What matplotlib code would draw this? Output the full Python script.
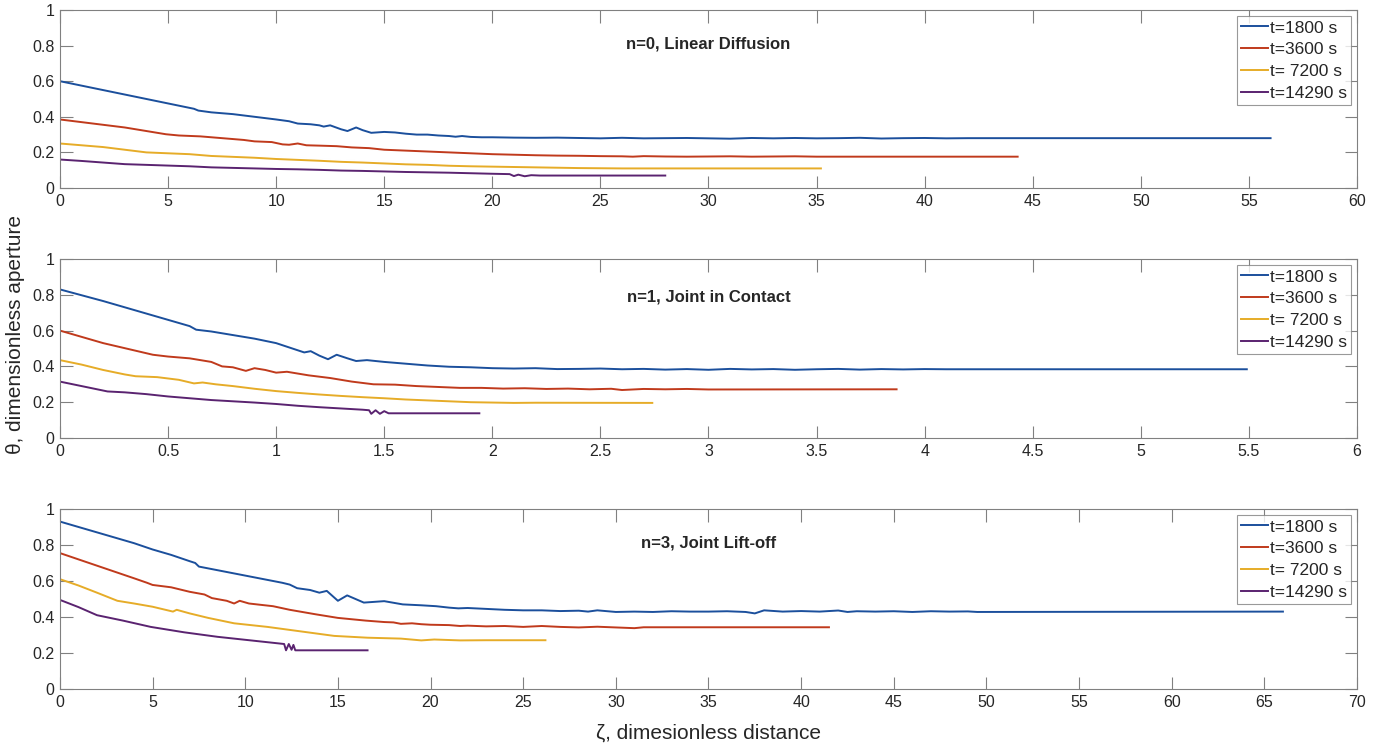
import matplotlib
matplotlib.use("Agg")
import matplotlib.pyplot as plt
from matplotlib.ticker import FormatStrFormatter

plt.rcParams['font.family'] = ['Liberation Sans', 'DejaVu Sans']

labels = ["t=1800 s", "t=3600 s", "t= 7200 s", "t=14290 s"]
colors = ['#1B4F9C', '#C03A1C', '#E6AC28', '#5A2370']
titles = ["n=0, Linear Diffusion", "n=1, Joint in Contact", "n=3, Joint Lift-off"]
xmax = [60, 6, 70]
xstep = [5, 0.5, 5]

# panel 1: n=0
p1_blue_x = [0, 1, 2, 3, 4, 5, 6, 6.2, 6.4, 7, 8, 9, 10, 10.6, 11, 11.6, 12, 12.2, 12.5, 13.0, 13.3, 13.7, 14.0, 14.4, 15, 15.5, 16, 16.5, 17, 17.5, 18, 18.3, 18.6, 19, 19.5, 20, 21, 22, 23, 24, 25, 26, 27, 28, 29, 30, 31, 32, 33, 34, 35, 36, 37, 38, 39, 40, 41, 42, 56]
p1_blue_y = [0.60, 0.575, 0.55, 0.525, 0.50, 0.475, 0.45, 0.445, 0.435, 0.425, 0.415, 0.40, 0.385, 0.375, 0.362, 0.358, 0.352, 0.345, 0.352, 0.33, 0.32, 0.34, 0.325, 0.31, 0.315, 0.312, 0.305, 0.30, 0.30, 0.295, 0.292, 0.288, 0.292, 0.287, 0.285, 0.285, 0.283, 0.282, 0.283, 0.281, 0.279, 0.282, 0.279, 0.280, 0.281, 0.279, 0.277, 0.281, 0.279, 0.281, 0.279, 0.280, 0.282, 0.278, 0.280, 0.281, 0.279, 0.280, 0.280]
p1_red_x = [0, 1, 2, 3, 4, 4.9, 5.5, 6.5, 7.5, 8.5, 9, 9.8, 10.3, 10.6, 11, 11.4, 12, 12.8, 13.5, 14.3, 15, 16, 17, 18, 19, 20, 21, 22, 23, 24, 25, 26, 26.5, 27, 28, 29, 30, 31, 32, 33, 34, 35, 44.3]
p1_red_y = [0.385, 0.37, 0.355, 0.34, 0.32, 0.302, 0.295, 0.29, 0.28, 0.27, 0.262, 0.258, 0.245, 0.243, 0.25, 0.24, 0.238, 0.235, 0.228, 0.224, 0.215, 0.21, 0.205, 0.20, 0.195, 0.19, 0.187, 0.184, 0.182, 0.181, 0.179, 0.178, 0.176, 0.179, 0.177, 0.176, 0.177, 0.178, 0.176, 0.177, 0.178, 0.176, 0.176]
p1_yel_x = [0, 1, 2, 3, 4, 5, 6, 7, 8, 9, 10, 11, 12, 13, 14, 15, 16, 17, 18, 19, 20, 21, 22, 23, 24, 25, 26, 35.2]
p1_yel_y = [0.25, 0.24, 0.23, 0.215, 0.20, 0.195, 0.19, 0.18, 0.175, 0.17, 0.163, 0.158, 0.153, 0.147, 0.143, 0.138, 0.133, 0.13, 0.125, 0.122, 0.12, 0.118, 0.116, 0.114, 0.112, 0.111, 0.11, 0.11]
p1_pur_x = [0, 1, 2, 3, 4, 5, 6, 7, 8, 9, 10, 11, 12, 13, 14, 15, 16, 17, 18, 19, 20, 20.8, 21.0, 21.2, 21.5, 21.8, 22.2, 28.0]
p1_pur_y = [0.16, 0.152, 0.143, 0.134, 0.13, 0.126, 0.122, 0.116, 0.113, 0.11, 0.107, 0.105, 0.102, 0.098, 0.096, 0.093, 0.09, 0.088, 0.086, 0.083, 0.08, 0.078, 0.067, 0.075, 0.066, 0.072, 0.07, 0.07]

# panel 2: n=1
p2_blue_x = [0, 0.2, 0.4, 0.6, 0.63, 0.7, 0.8, 0.9, 1.0, 1.05, 1.1, 1.13, 1.16, 1.2, 1.24, 1.28, 1.33, 1.37, 1.42, 1.5, 1.6, 1.7, 1.8, 1.9, 2.0, 2.1, 2.2, 2.3, 2.4, 2.5, 2.6, 2.7, 2.8, 2.9, 3.0, 3.1, 3.2, 3.3, 3.4, 3.5, 3.6, 3.7, 3.8, 3.9, 4.0, 4.1, 5.49]
p2_blue_y = [0.83, 0.765, 0.695, 0.625, 0.605, 0.595, 0.575, 0.555, 0.53, 0.51, 0.49, 0.478, 0.485, 0.46, 0.44, 0.465, 0.445, 0.43, 0.435, 0.425, 0.415, 0.405, 0.398, 0.395, 0.39, 0.388, 0.39, 0.385, 0.386, 0.388, 0.384, 0.386, 0.382, 0.385, 0.381, 0.386, 0.383, 0.385, 0.381, 0.384, 0.386, 0.382, 0.385, 0.383, 0.385, 0.384, 0.384]
p2_red_x = [0, 0.2, 0.43, 0.5, 0.6, 0.7, 0.75, 0.8, 0.86, 0.9, 0.95, 1.0, 1.05, 1.15, 1.25, 1.35, 1.45, 1.55, 1.65, 1.75, 1.85, 1.95, 2.05, 2.15, 2.25, 2.35, 2.45, 2.55, 2.6, 2.7, 2.8, 2.9, 3.0, 3.87]
p2_red_y = [0.60, 0.53, 0.465, 0.455, 0.445, 0.425, 0.40, 0.395, 0.375, 0.39, 0.38, 0.365, 0.37, 0.35, 0.335, 0.315, 0.30, 0.298, 0.29, 0.285, 0.28, 0.28, 0.276, 0.278, 0.274, 0.276, 0.272, 0.275, 0.268, 0.274, 0.272, 0.274, 0.271, 0.272]
p2_yel_x = [0, 0.1, 0.2, 0.3, 0.35, 0.45, 0.55, 0.62, 0.66, 0.72, 0.8, 0.9, 1.0, 1.1, 1.2, 1.3, 1.4, 1.5, 1.6, 1.7, 1.8, 1.9, 2.0, 2.1, 2.2, 2.74]
p2_yel_y = [0.435, 0.41, 0.38, 0.355, 0.345, 0.34, 0.325, 0.305, 0.31, 0.30, 0.29, 0.275, 0.262, 0.252, 0.243, 0.235, 0.228, 0.222, 0.215, 0.21, 0.205, 0.20, 0.198, 0.196, 0.197, 0.196]
p2_pur_x = [0, 0.1, 0.22, 0.3, 0.4, 0.5, 0.6, 0.7, 0.8, 0.9, 1.0, 1.1, 1.2, 1.3, 1.4, 1.43, 1.44, 1.46, 1.48, 1.5, 1.52, 1.94]
p2_pur_y = [0.315, 0.29, 0.26, 0.255, 0.245, 0.232, 0.222, 0.212, 0.205, 0.198, 0.19, 0.18, 0.172, 0.165, 0.158, 0.155, 0.135, 0.155, 0.135, 0.15, 0.138, 0.138]

# panel 3: n=3
p3_blue_x = [0, 1, 2, 3, 4, 5, 6, 7, 7.3, 7.5, 8, 8.5, 9, 10, 11, 12, 12.4, 12.8, 13.5, 14, 14.4, 15, 15.5, 16.4, 17.5, 18.5, 19.5, 20.3, 21, 21.5, 22, 23, 24, 25, 26, 27, 28, 28.5, 29, 30, 31, 32, 33, 34, 35, 36, 37, 37.5, 38, 39, 40, 41, 42, 42.5, 43, 44, 45, 46, 47, 48, 49, 49.5, 66]
p3_blue_y = [0.93, 0.90, 0.87, 0.84, 0.81, 0.775, 0.745, 0.71, 0.70, 0.68, 0.67, 0.66, 0.65, 0.63, 0.61, 0.59, 0.58, 0.56, 0.55, 0.535, 0.545, 0.49, 0.52, 0.48, 0.488, 0.47, 0.465, 0.46, 0.452, 0.448, 0.45, 0.445, 0.44, 0.437, 0.437, 0.433, 0.435, 0.43, 0.437, 0.428, 0.43, 0.428, 0.432, 0.43, 0.43, 0.432, 0.428, 0.42, 0.437, 0.43, 0.433, 0.43, 0.436, 0.428, 0.432, 0.43, 0.432, 0.428, 0.432, 0.43, 0.431, 0.428, 0.43]
p3_red_x = [0, 1, 2, 3, 4, 4.7, 5, 6, 7, 7.8, 8.2, 9, 9.4, 9.7, 10.2, 10.8, 11.5, 12.4, 13.8, 15, 16.5, 17.5, 18, 18.4, 19, 19.5, 20, 21, 21.6, 22, 23, 24, 25, 26, 27, 28, 29, 30, 31, 31.5, 41.5]
p3_red_y = [0.755, 0.72, 0.685, 0.65, 0.615, 0.59, 0.578, 0.565, 0.54, 0.525, 0.505, 0.49, 0.475, 0.49, 0.475, 0.468, 0.46, 0.44, 0.415, 0.395, 0.38, 0.372, 0.37, 0.362, 0.365, 0.36, 0.357, 0.355, 0.35, 0.352, 0.348, 0.35, 0.345, 0.35, 0.345, 0.342, 0.346, 0.342, 0.338, 0.343, 0.343]
p3_yel_x = [0, 1, 2, 3.1, 4, 5.0, 6.1, 6.3, 7.0, 8, 9.4, 11.2, 13.0, 14.8, 16.6, 18.4, 19.5, 20.2, 21.6, 23, 26.2]
p3_yel_y = [0.61, 0.575, 0.535, 0.49, 0.475, 0.457, 0.43, 0.44, 0.42, 0.395, 0.365, 0.345, 0.32, 0.295, 0.285, 0.28, 0.27, 0.275, 0.27, 0.271, 0.271]
p3_pur_x = [0, 1, 2.0, 3.4, 4.9, 6.7, 8.5, 10.3, 12.1, 12.2, 12.35, 12.5, 12.6, 12.7, 12.8, 16.6]
p3_pur_y = [0.495, 0.455, 0.41, 0.38, 0.345, 0.315, 0.29, 0.27, 0.25, 0.215, 0.25, 0.218, 0.245, 0.215, 0.215, 0.215]

panels = [
    [(p1_blue_x, p1_blue_y), (p1_red_x, p1_red_y), (p1_yel_x, p1_yel_y), (p1_pur_x, p1_pur_y)],
    [(p2_blue_x, p2_blue_y), (p2_red_x, p2_red_y), (p2_yel_x, p2_yel_y), (p2_pur_x, p2_pur_y)],
    [(p3_blue_x, p3_blue_y), (p3_red_x, p3_red_y), (p3_yel_x, p3_yel_y), (p3_pur_x, p3_pur_y)],
]

fig = plt.figure(figsize=(13.78, 7.44), dpi=100)
left, right = 0.0435, 0.9848
boxes = [(0.7473, 0.9866), (0.4113, 0.6519), (0.0739, 0.3159)]
title_y = [0.81, 0.79, 0.81]

axc = '#808080'
txtc = '#262626'
for i in range(3):
    b, t = boxes[i]
    ax = fig.add_axes([left, b, right - left, t - b])
    for j, (xs, ys) in enumerate(panels[i]):
        ax.plot(xs, ys, color=colors[j], lw=1.4, label=labels[j])
    ax.set_xlim(0, xmax[i])
    ax.set_ylim(0, 1)
    ax.set_yticks([0, 0.2, 0.4, 0.6, 0.8, 1])
    ax.yaxis.set_major_formatter(FormatStrFormatter('%g'))
    n = int(round(xmax[i] / xstep[i]))
    ax.set_xticks([k * xstep[i] for k in range(n + 1)])
    ax.xaxis.set_major_formatter(FormatStrFormatter('%g'))
    ax.tick_params(direction='in', length=9, width=0.8, color=axc,
                   labelsize=11.5, labelcolor=txtc, top=True, right=True, pad=4)
    for s in ax.spines.values():
        s.set_color(axc)
        s.set_linewidth(0.8)
    ax.text(0.5, title_y[i], titles[i], transform=ax.transAxes, ha='center',
            va='center', fontsize=12, fontweight='bold', color=txtc)
    leg = ax.legend(loc='upper right', fontsize=12.5, frameon=True, fancybox=False,
                    handlelength=1.55, handletextpad=0.1, borderpad=0.25,
                    labelspacing=0.38, borderaxespad=0.35)
    leg.get_frame().set_edgecolor('#808080')
    leg.get_frame().set_linewidth(0.8)
    for txt in leg.get_texts():
        txt.set_color(txtc)
    if i == 2:
        ax.set_xlabel('ζ, dimesionless distance', fontsize=15, color=txtc, labelpad=10)

fig.text(0.011, 0.551, 'θ, dimensionless aperture', rotation=90, ha='center',
         va='center', fontsize=15, color=txtc)

fig.savefig('out.png', dpi=100)
